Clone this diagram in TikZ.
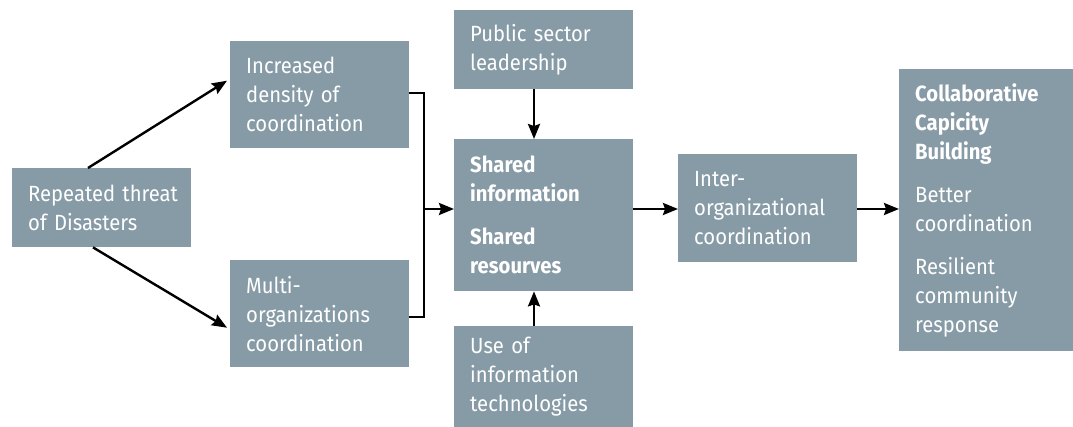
\documentclass[tikz,border=0pt]{standalone}
\usepackage{fontspec}
\setmainfont{Fira Sans}[FakeStretch=0.92]
\usetikzlibrary{arrows.meta,calc}
\definecolor{boxgray}{HTML}{879BA7}
\tikzset{
  box/.style={fill=boxgray, text=white, anchor=north west, inner xsep=16pt, inner ysep=0pt,
    align=left, font=\fontsize{22}{29}\selectfont},
  conn/.style={line width=2.4pt, -{Stealth[length=15pt,width=12pt,inset=2pt]}},
  plain/.style={line width=2.4pt}
}
\begin{document}
\begin{tikzpicture}[x=1pt,y=-1pt]
\useasboundingbox (0,0) rectangle (1073,427);
\node[box, text width=147pt, minimum height=79pt] (rep) at (12,168) {Repeated~threat\\of Disasters};
\node[box, text width=147pt, minimum height=107pt] (inc) at (230,41) {Increased\\density of\\coordination};
\node[box, text width=147pt, minimum height=107pt] (mul) at (230,260) {Multi-\\organizations\\coordination};
\node[box, text width=147pt, minimum height=79pt] (pub) at (454,10) {Public~sector\\leadership};
\node[box, text width=147pt, minimum height=152pt] (sha) at (454,139) {\textbf{Shared}\\\textbf{information}\\[14pt]\textbf{Shared}\\\textbf{resourves}};
\node[box, text width=147pt, minimum height=101pt] (use) at (454,326) {Use of\\information\\technologies};
\node[box, text width=147pt, minimum height=108pt] (int) at (678,154) {Inter-\\organizational\\coordination};
\node[box, text width=142pt, minimum height=282pt] (col) at (899,69) {\textbf{Collaborative}\\\textbf{Capicity}\\\textbf{Building}\\[14pt]Better\\coordination\\[14pt]Resilient\\community\\response};
\coordinate (brk) at (424,209);
\draw[conn] ($(rep.north west)+(76,0)$) -- ($(inc.west)+(-3,-14)$);
\draw[conn] ($(rep.south west)+(81,0)$) -- ($(mul.west)+(-3,14)$);
\draw[plain] (inc.east |- 0,93) -| (brk) |- (mul.east |- 0,317);
\draw[conn] (brk) -- (brk -| sha.west);
\draw[conn] (pub.south -| 534,0) -- (sha.north -| 534,0);
\draw[conn] (use.north -| 534,0) -- (sha.south -| 534,0);
\draw[conn] (sha.east |- brk) -- (int.west |- brk);
\draw[conn] (int.east |- brk) -- (col.west |- brk);
\end{tikzpicture}
\end{document}
